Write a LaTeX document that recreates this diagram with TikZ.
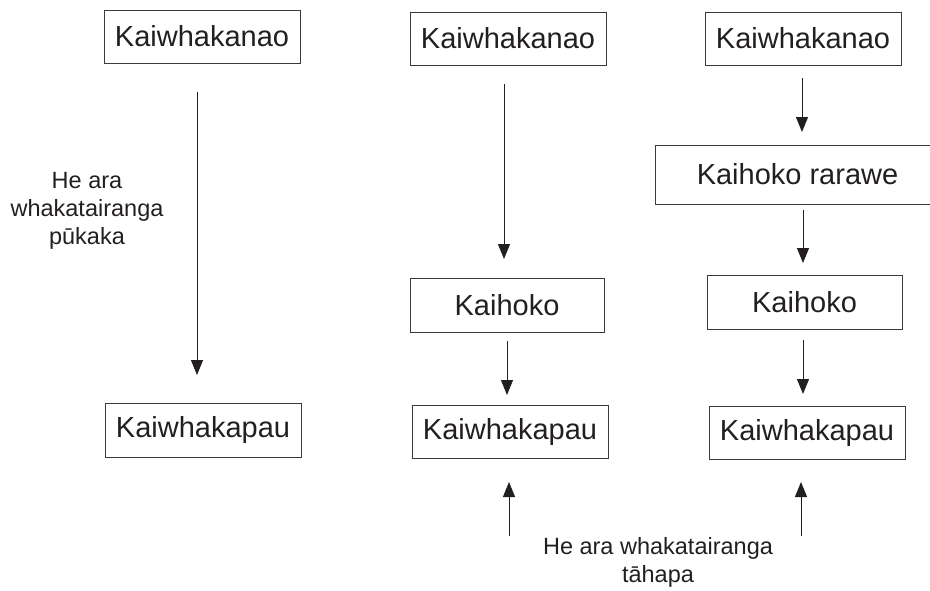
\documentclass[tikz,border=0pt]{standalone}
\usepackage{fontspec}
\setmainfont{Liberation Sans}
\usetikzlibrary{arrows.meta}
\definecolor{ink}{HTML}{231F20}
\definecolor{edge}{HTML}{3A3A3A}
\tikzset{
  box/.style={draw=edge, line width=1pt, inner sep=0pt, text=ink,
    font=\fontsize{29}{34}\selectfont},
  flow/.style={draw=ink, line width=1pt,
    -{Triangle[width=12pt,length=15pt]}},
  note/.style={text=ink, align=center, inner sep=0pt,
    font=\fontsize{23.5}{28}\selectfont}
}
\begin{document}
\begin{tikzpicture}[x=1pt,y=-1pt]
\useasboundingbox (0,0) rectangle (930,590);
% boxes
\node[box, minimum width=196pt, minimum height=53pt] (p1) at (202,36.5) {Kaiwhakanao};
\node[box, minimum width=196pt, minimum height=53pt] (p2) at (508,38.5) {Kaiwhakanao};
\node[box, minimum width=196pt, minimum height=53pt] (p3) at (803,38.5) {Kaiwhakanao};
\node[box, minimum width=285pt, minimum height=59pt] (r3) at (797.5,174.5) {Kaihoko rarawe};
\node[box, minimum width=194pt, minimum height=54pt] (k2) at (507,305) {Kaihoko};
\node[box, minimum width=195pt, minimum height=54pt] (k3) at (804.5,302) {Kaihoko};
\node[box, minimum width=196pt, minimum height=54pt] (c1) at (203,430) {Kaiwhakapau};
\node[box, minimum width=196pt, minimum height=53pt] (c2) at (510,431.5) {Kaiwhakapau};
\node[box, minimum width=196pt, minimum height=53pt] (c3) at (807,432.5) {Kaiwhakapau};
% labels
\node[note] (l1) at (87,211) {He ara\\whakatairanga\\pūkaka};
\node[note] (l2) at (658,562) {He ara whakatairanga\\tāhapa};
% arrow end points
\coordinate (a1s) at (197,92);  \coordinate (a1e) at (197,375);
\coordinate (a2s) at (504,84);  \coordinate (a2e) at (504,259);
\coordinate (a3s) at (802,78);  \coordinate (a3e) at (802,132);
\coordinate (a4s) at (803,210); \coordinate (a4e) at (803,263);
\coordinate (a5s) at (507,341); \coordinate (a5e) at (507,395);
\coordinate (a6s) at (803,340); \coordinate (a6e) at (803,394);
\coordinate (u1s) at (509,536); \coordinate (u1e) at (509,482);
\coordinate (u2s) at (801,536); \coordinate (u2e) at (801,482);
% arrows
\draw[flow] (a1s) -- (a1e);
\draw[flow] (a2s) -- (a2e);
\draw[flow] (a3s) -- (a3e);
\draw[flow] (a4s) -- (a4e);
\draw[flow] (a5s) -- (a5e);
\draw[flow] (a6s) -- (a6e);
\draw[flow] (u1s) -- (u1e);
\draw[flow] (u2s) -- (u2e);
\end{tikzpicture}
\end{document}
